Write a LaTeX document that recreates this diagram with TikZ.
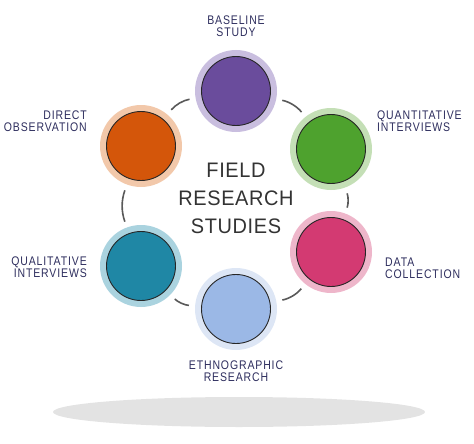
\documentclass[tikz,border=0pt]{standalone}
\usepackage{fontspec}
\setmainfont{Liberation Sans}
\newfontfamily\labfont[FakeStretch=0.84,LetterSpace=7]{Liberation Sans}
\newfontfamily\titfont[FakeStretch=0.95,LetterSpace=3]{Liberation Sans}
\definecolor{purpin}{HTML}{6A4C9C}\definecolor{purpring}{HTML}{C9BEDF}
\definecolor{grnin}{HTML}{4EA22E}\definecolor{grnring}{HTML}{C4DFB6}
\definecolor{orgin}{HTML}{D4560A}\definecolor{orgring}{HTML}{F2C8AA}
\definecolor{tealin}{HTML}{1F87A5}\definecolor{tealring}{HTML}{AAD3DF}
\definecolor{pinkin}{HTML}{D33A72}\definecolor{pinkring}{HTML}{EEB6CA}
\definecolor{bluein}{HTML}{9BB8E6}\definecolor{bluering}{HTML}{DDE6F5}
\definecolor{navy}{HTML}{2E2E5E}
\definecolor{shadowc}{HTML}{E3E3E3}
\begin{document}
\begin{tikzpicture}[x=1pt,y=-1pt,
  ring/.style={circle,minimum size=82pt,inner sep=0pt,draw=none},
  core/.style={draw=black!85,line width=0.9pt},
  conn/.style={draw=black!65,line width=1.6pt,bend left=20,shorten <=6pt,shorten >=6pt},
  lab/.style={font=\labfont\fontsize{12.5}{12}\selectfont,text=navy,inner sep=0pt},
  tit/.style={font=\titfont\fontsize{21}{28}\selectfont,text=black!80,inner sep=0pt,align=center}]
\useasboundingbox (0,0) rectangle (474,444);
\fill[shadowc] (239,412) ellipse (186 and 15);
% rings
\node[ring,fill=purpring] (base) at (236,91) {};
\node[ring,fill=grnring] (quant) at (331,149) {};
\node[ring,fill=pinkring] (data) at (331,252) {};
\node[ring,fill=bluering] (ethno) at (236,309) {};
\node[ring,fill=tealring] (qual) at (141,266) {};
\node[ring,fill=orgring] (direct) at (141,146) {};
% connectors
\draw[conn] (direct) to (base);
\draw[conn] (base) to (quant);
\draw[conn] (quant) to (data);
\draw[conn] (data) to (ethno);
\draw[conn] (ethno) to (qual);
\draw[conn] (qual) to (direct);
% cores
\filldraw[core,fill=purpin] (base.center) circle (34.5);
\filldraw[core,fill=grnin] (quant.center) circle (34.5);
\filldraw[core,fill=pinkin] (data.center) circle (34.5);
\filldraw[core,fill=bluein] (ethno.center) circle (34.5);
\filldraw[core,fill=tealin] (qual.center) circle (34.5);
\filldraw[core,fill=orgin] (direct.center) circle (34.5);
% labels
\node[lab,align=center] (lbase) at (236,26.5) {BASELINE\\STUDY};
\node[lab,align=left,anchor=west] (lquant) at (377,121) {QUANTITATIVE\\INTERVIEWS};
\node[lab,align=right,anchor=east] (ldirect) at (87,121) {DIRECT\\OBSERVATION};
\node[lab,align=right,anchor=east] (lqual) at (87,267.5) {QUALITATIVE\\INTERVIEWS};
\node[lab,align=left,anchor=west] (ldata) at (385,268) {DATA\\COLLECTION};
\node[lab,align=center] (lethno) at (236,371.5) {ETHNOGRAPHIC\\RESEARCH};
\node[tit] (title) at (236,198) {FIELD\\RESEARCH\\STUDIES};
\end{tikzpicture}
\end{document}
